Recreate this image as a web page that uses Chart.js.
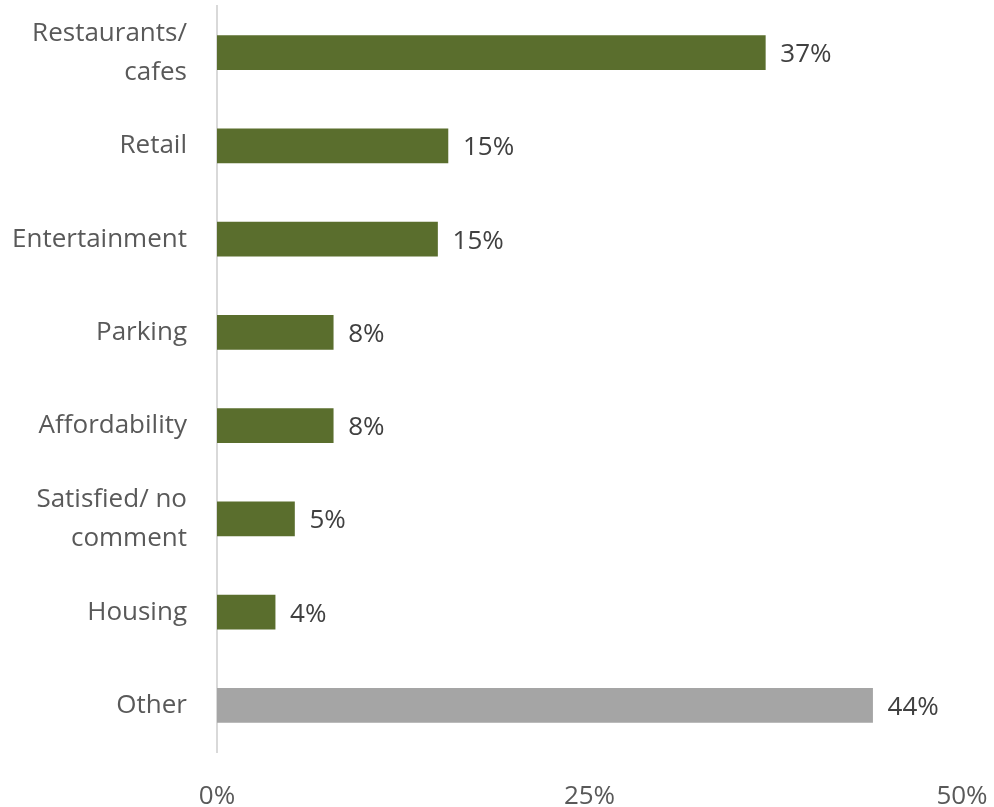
<!DOCTYPE html>
<html>
<head>
<meta charset="utf-8">
<script src="https://cdn.jsdelivr.net/npm/chart.js@4"></script>
<style>
  html, body { margin: 0; padding: 0; background: #fff; }
  #wrap { width: 994px; height: 807px; position: relative; }
</style>
</head>
<body>
<div id="wrap"><canvas id="barChart"></canvas></div>
<script>
const categories = [
    ['Restaurants/', 'cafes'],
    'Retail',
    'Entertainment',
    'Parking',
    'Affordability',
    ['Satisfied/ no', 'comment'],
    'Housing',
    'Other'
];
const shares = [36.8, 15.5, 14.8, 7.8, 7.8, 5.2, 3.9, 44.0];
const shareLabels = ['37%', '15%', '15%', '8%', '8%', '5%', '4%', '44%'];
const tickValues = [0, 25, 50];

const FONT = "'Open Sans', 'Noto Sans', sans-serif";

// values printed at the end of each bar
const barLabels = {
    id: 'barLabels',
    afterDatasetsDraw(c) {
        const ctx = c.ctx;
        const meta = c.getDatasetMeta(0);
        ctx.save();
        ctx.font = '26px ' + FONT;
        ctx.fillStyle = '#404040';
        ctx.textAlign = 'left';
        ctx.textBaseline = 'middle';
        meta.data.forEach((bar, i) => {
            ctx.fillText(shareLabels[i], bar.x + 15, bar.y + 2);
        });
        ctx.restore();
    }
};

const ctx = document.getElementById('barChart').getContext('2d');
const chart = new Chart(ctx, {
    type: 'bar',
    data: {
        labels: categories,
        datasets: [{
            data: shares,
            backgroundColor: categories.map((c, i) => i === categories.length - 1 ? '#a5a5a5' : '#5a6e2d'),
            barThickness: 34
        }]
    },
    options: {
        indexAxis: 'y',
        responsive: true,
        maintainAspectRatio: false,
        animation: false,
        layout: { padding: { top: 6, right: 32, left: 0, bottom: 0 } },
        plugins: { legend: { display: false }, tooltip: { enabled: false } },
        scales: {
            x: {
                min: 0,
                max: 50,
                afterBuildTicks: (s) => { s.ticks = tickValues.map(v => ({ value: v })); },
                grid: { display: false, drawTicks: false },
                border: { display: false },
                ticks: {
                    padding: 29,
                    color: '#595959',
                    font: { family: FONT, size: 26 },
                    callback: (v) => v + '%'
                },
                afterFit: (s) => { s.height = 55; s.paddingLeft = 0; s.paddingRight = 0; }
            },
            y: {
                grid: { display: false, drawTicks: false },
                border: { display: true, color: '#d9d9d9', width: 2 },
                ticks: {
                    padding: 30,
                    color: '#595959',
                    font: { family: FONT, size: 26, lineHeight: 1.5 }
                },
                afterFit: (s) => { s.width = 217; s.paddingTop = 0; s.paddingBottom = 0; }
            }
        }
    },
    plugins: [barLabels]
});
</script>
</body>
</html>
